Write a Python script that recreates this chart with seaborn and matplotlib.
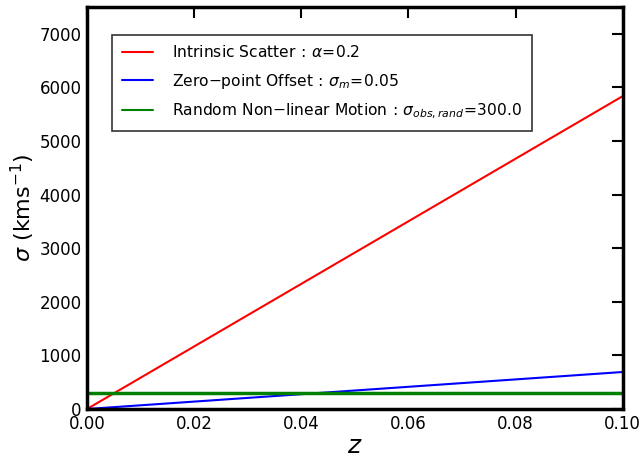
import matplotlib
matplotlib.use("Agg")
import matplotlib.pyplot as plt
import seaborn as sns
import pandas as pd

# Velocity dispersion contributions versus redshift (straight lines: endpoints)
z_points = [0.0, 0.1]
sigma_intrinsic = [0.0, 5835.0]
sigma_zeropoint = [0.0, 690.0]
sigma_random = [300.0, 300.0]

labels = [
    r'Intrinsic Scatter$\,:\,\alpha\!=\!0.2$',
    r'Zero$-$point Offset$\,:\,\sigma_m\!=\!0.05$',
    r'Random Non$-$linear Motion$\,:\,\sigma_{obs,rand}\!=\!300.0$',
]
colors = ["red", "blue", "green"]
widths = [1.5, 1.5, 2.5]
series = [sigma_intrinsic, sigma_zeropoint, sigma_random]

sns.set_theme(style="white")
plt.rcParams["font.family"] = ["DejaVu Sans"]
plt.rcParams["mathtext.fontset"] = "dejavusans"
plt.rcParams["text.color"] = "black"

fig = plt.figure(figsize=(6.4, 4.58), dpi=100)
ax = fig.add_axes([0.136, 0.107, 0.837, 0.878])

for lab, col, lw, vals in zip(labels, colors, widths, series):
    df = pd.DataFrame({"z": z_points, "sigma": vals})
    sns.lineplot(data=df, x="z", y="sigma", color=col, linewidth=lw,
                 label=lab, ax=ax)

ax.set_xlim(0, 0.1)
ax.set_ylim(0, 7500)
ax.set_xticks([0.0, 0.02, 0.04, 0.06, 0.08, 0.10])
ax.set_xticklabels(["0.00", "0.02", "0.04", "0.06", "0.08", "0.10"])
ax.set_yticks(range(0, 7001, 1000))

ax.tick_params(direction="in", length=8, width=1.5, top=True, right=True,
               labelsize=12, colors="black", pad=4)
for sp in ax.spines.values():
    sp.set_linewidth(2.5)
    sp.set_color("black")

ax.set_xlabel(r"$z$", fontsize=18, color="black", labelpad=1)
ax.set_ylabel(r"$\sigma\ (\mathrm{kms}^{-1})$", fontsize=16, color="black",
              labelpad=2)

leg = ax.legend(loc="upper left", bbox_to_anchor=(0.033, 0.95), fontsize=11.2,
                frameon=True, fancybox=False, handlelength=2.0,
                borderpad=0.62, labelspacing=0.72, handletextpad=1.2)
leg.get_frame().set_edgecolor("black")
leg.get_frame().set_linewidth(1.2)
for h in leg.get_lines():
    h.set_linewidth(1.5)
for t in leg.get_texts():
    t.set_color("black")

fig.savefig("out.png", dpi=100)
